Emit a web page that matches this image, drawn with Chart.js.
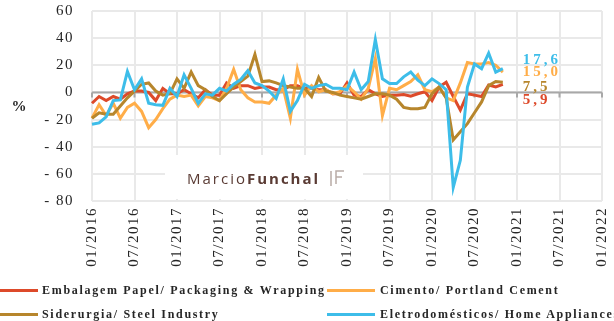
<!DOCTYPE html>
<html>
<head>
<meta charset="utf-8">
<script src="https://cdn.jsdelivr.net/npm/chart.js@4.4.1/dist/chart.umd.min.js"></script>
<style>
  html, body { margin: 0; padding: 0; background: #fff; }
  #wrap { position: relative; width: 614px; height: 321px; overflow: hidden; background: #fff; }
  #c { position: absolute; left: 0; top: 0; }
  .lg-line { position: absolute; height: 3px; }
  .lg-text { position: absolute; font: bold 12px "Liberation Serif", serif; letter-spacing: 1.7px;
             color: #262626; white-space: nowrap; line-height: 14px; }
</style>
</head>
<body>
<div id="wrap">
  <canvas id="c" width="614" height="321"></canvas>
  <div id="legend"></div>
</div>
<script>
// Monthly year-on-year change (%), Jan 2016 – Nov 2020
const seriesNames = [
  'Embalagem Papel/ Packaging & Wrapping',
  'Cimento/ Portland Cement',
  'Siderurgia/ Steel Industry',
  'Eletrodomésticos/ Home Appliances'
];
const seriesColors = ['#dd4a2a', '#ffad48', '#b7862c', '#3dbde9'];

const embalagem = [-8, -3, -6, -3, -5, -1, 1, 1, 0, -6, 3, -1, -1, 2, -1, -4, 2, -2, -2, 7,
  3, 5, 5, 3, 4, 4, 2, 2, 5, 5, 3, 3, 2, 2, -1, -1, 7, -2, -3, 2,
  -1, -3, -2, -2, -1.5, -2.7, -1, 0.5, -6, 4, 7.5, -3, -13, -1, -2, -3, 5.4, 4, 5.9];
const cimento = [-19, -9, -17, -8, -19, -11, -8, -14, -26, -20, -12, -5, -2, -3, -2, -10, -3, -4, -6, 3,
  17, 2, -4, -7, -7, -8, -2, 3, -19, 17, -2, 5, 0.5, 2, -1, 0.5, 5, 0.5, -5, 3,
  25, -17, 3, 2, 5, 8, 13, 2, 0.5, 4, -4, -6, 7, 22, 21, 21, 22, 20, 15.0];
const siderurgia = [-19, -15, -16, -16, -10, -4, 1, 6, 7, 1, -2, -1, 10, 3, 15, 5, 2, -3, -6, -1,
  4, 8, 12, 28, 8, 8.5, 7, 5, 4, 3, 3, -3, 11, 1, 0, -2, -3, -4, -5, -3,
  -1, -1, -2, -5, -11, -12, -12, -11, -1, 4, -4, -35, -29, -23, -15, -7, 5, 8, 7.5];
const eletro = [-23.5, -22.5, -18, -6, -5.5, 15.5, 2, 10, -8, -9, -9.5, 3, -3, 13, 3, -8, -1, -2, 3, 1,
  6, 9.5, 16, 7, 5, 1, -4.5, 10, -14, -6, 6, 3, 5, 6, 3, 3, 2, 15, 2, 8,
  39, 10, 6.6, 6.6, 11.5, 15, 9, 5, 10, 6.5, 2, -70, -50, 4, 21, 17.5, 29, 15, 17.6];
const seriesValues = [embalagem, cimento, siderurgia, eletro];

const tickLabels = ['01/2016', '07/2016', '01/2017', '07/2017', '01/2018', '07/2018', '01/2019',
  '07/2019', '01/2020', '07/2020', '01/2021', '07/2021', '01/2022'];
const yTicks = { min: -80, max: 60, step: 20 };

// month categories from 01/2016 to 01/2022
const months = [];
for (let y = 2016; y <= 2022; y++) {
  for (let m = 1; m <= 12; m++) {
    if (y === 2022 && m > 1) break;
    months.push(String(m).padStart(2, '0') + '/' + y);
  }
}

// vertical nudges (px) for the end-of-line value labels, per series
const endLabelNudge = [16, 0, 5, -8];

const fmtComma = v => v.toFixed(1).replace('.', ',');

const decor = {
  id: 'decor',
  beforeDraw(chart) {
    chart.ctx.letterSpacing = '1.5px';
  },
  beforeDatasetsDraw(chart) {
    const { ctx, chartArea: a, scales: { x, y } } = chart;
    ctx.save();
    // zero axis with downward ticks every six months
    const y0 = y.getPixelForValue(0);
    ctx.strokeStyle = '#a8a8a8';
    ctx.lineWidth = 2;
    ctx.beginPath();
    ctx.moveTo(a.left, y0);
    ctx.lineTo(a.right, y0);
    for (let i = 0; i < months.length; i += 6) {
      const px = x.getPixelForValue(i);
      ctx.moveTo(px, y0);
      ctx.lineTo(px, y0 + 5);
    }
    ctx.stroke();

    // signature panel
    ctx.fillStyle = '#ffffff';
    ctx.fillRect(165, 155, 198, 44);
    ctx.letterSpacing = '2px';
    ctx.textBaseline = 'alphabetic';
    ctx.textAlign = 'left';
    ctx.fillStyle = '#5a3b34';
    ctx.font = '15px "Open Sans", sans-serif';
    ctx.fillText('Marcio', 187, 184);
    const w = ctx.measureText('Marcio').width;
    ctx.font = 'bold 15px "Open Sans", sans-serif';
    ctx.fillText('Funchal', 187 + w, 184);
    // small logo mark
    ctx.strokeStyle = '#b9aca7';
    ctx.lineWidth = 1.5;
    ctx.beginPath();
    ctx.moveTo(331, 171); ctx.lineTo(331, 186);
    ctx.moveTo(336, 184); ctx.lineTo(336, 171); ctx.lineTo(344, 171);
    ctx.moveTo(336, 177); ctx.lineTo(342, 177);
    ctx.stroke();
    ctx.restore();
  },
  afterDatasetsDraw(chart) {
    const { ctx, scales: { x, y } } = chart;
    ctx.save();
    ctx.letterSpacing = '3px';
    ctx.font = 'bold 15px "Liberation Serif", serif';
    ctx.textBaseline = 'middle';
    ctx.textAlign = 'left';
    seriesValues.forEach((vals, k) => {
      const last = vals.length - 1;
      const px = x.getPixelForValue(last) + 20;
      const py = y.getPixelForValue(vals[last]) + endLabelNudge[k];
      ctx.fillStyle = seriesColors[k];
      ctx.fillText(fmtComma(vals[last]), px, py);
    });
    // unit label
    ctx.letterSpacing = '0px';
    ctx.fillStyle = '#262626';
    ctx.font = 'bold 15px "Liberation Serif", serif';
    ctx.textAlign = 'center';
    ctx.fillText('%', 19, 107);
    ctx.restore();
  },
  afterDraw(chart) {
    chart.ctx.letterSpacing = '0px';
  }
};

const datasets = seriesValues.map((vals, k) => ({
  label: seriesNames[k],
  data: vals,
  borderColor: seriesColors[k],
  backgroundColor: seriesColors[k],
  borderWidth: 3,
  pointRadius: 0,
  tension: 0,
  fill: false,
  order: seriesValues.length - k
}));

new Chart(document.getElementById('c'), {
  type: 'line',
  data: { labels: months, datasets },
  options: {
    responsive: false,
    animation: false,
    layout: { autoPadding: false, padding: { top: 11, right: 12, left: 0, bottom: 0 } },
    plugins: { legend: { display: false }, tooltip: { enabled: false } },
    scales: {
      x: {
        type: 'category',
        offset: false,
        border: { display: false },
        grid: {
          color: c => (c.index % 6 === 0 ? '#e9e9e9' : 'rgba(0,0,0,0)'),
          lineWidth: 2,
          drawTicks: false
        },
        ticks: {
          autoSkip: false,
          minRotation: 90,
          maxRotation: 90,
          padding: 6,
          color: '#262626',
          font: { family: '"Liberation Serif", serif', size: 15 },
          callback: (v, i) => (i % 6 === 0 ? tickLabels[i / 6] : '')
        },
        afterFit: s => { s.height = 120; s.paddingLeft = 0; s.paddingRight = 0; }
      },
      y: {
        min: yTicks.min,
        max: yTicks.max,
        border: { display: false },
        grid: { color: '#e9e9e9', lineWidth: 2, drawTicks: false },
        ticks: {
          stepSize: yTicks.step,
          padding: 18,
          color: '#262626',
          font: { family: '"Liberation Serif", serif', size: 15 },
          callback: v => (v < 0 ? '- ' + (-v) : String(v))
        },
        afterFit: s => { s.width = 92; s.paddingTop = 0; s.paddingBottom = 0; }
      }
    }
  },
  plugins: [decor]
});

// legend in two columns beneath the axis
const legend = document.getElementById('legend');
seriesNames.forEach((name, k) => {
  const col = k % 2, row = Math.floor(k / 2);
  const cy = row ? 314 : 290;
  const line = document.createElement('div');
  line.className = 'lg-line';
  line.style.background = seriesColors[k];
  line.style.left = (col ? 327 : 0) + 'px';
  line.style.width = (col ? 48 : 38) + 'px';
  line.style.top = (cy - 1.5) + 'px';
  const text = document.createElement('div');
  text.className = 'lg-text';
  text.textContent = name;
  text.style.left = (col ? 380 : 42) + 'px';
  text.style.top = (cy - 7) + 'px';
  legend.appendChild(line);
  legend.appendChild(text);
});
</script>
</body>
</html>
